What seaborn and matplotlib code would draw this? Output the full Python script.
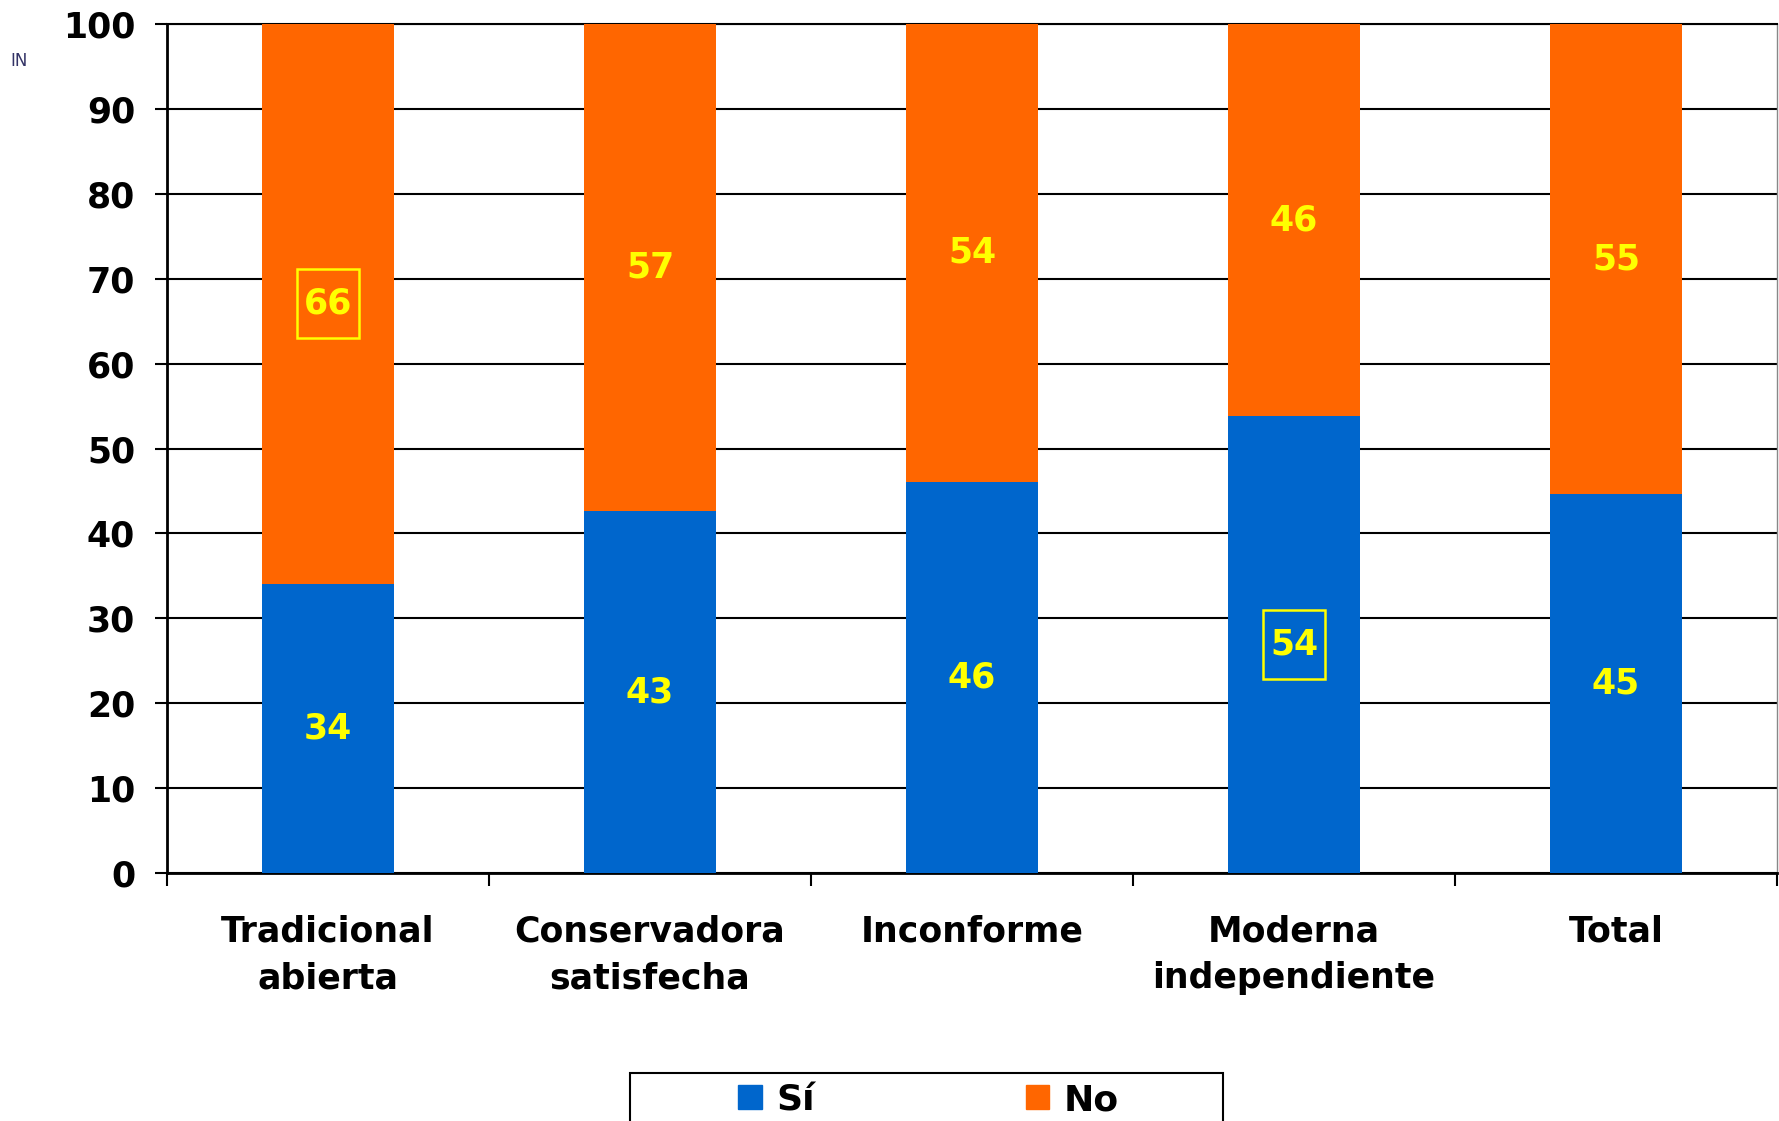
import matplotlib
matplotlib.use('Agg')
import matplotlib.pyplot as plt
import matplotlib.patches as mpatches
import seaborn as sns
import pandas as pd

# data
categories = ['Tradicional\nabierta', 'Conservadora\nsatisfecha', 'Inconforme',
              'Moderna\nindependiente', 'Total']
si_values = [34.1, 42.6, 46.1, 53.8, 44.6]
no_values = [65.9, 57.4, 53.9, 46.2, 55.4]
si_labels = ['34', '43', '46', '54', '45']
no_labels = ['66', '57', '54', '46', '55']
boxed_si = [False, False, False, True, False]
boxed_no = [True, False, False, False, False]
y_ticks = [0, 10, 20, 30, 40, 50, 60, 70, 80, 90, 100]

blue = '#0066CC'
orange = '#FF6600'
yellow = '#FFFF00'

sns.set_style('white')
plt.rcParams['font.family'] = ['DejaVu Sans']
plt.rcParams['font.weight'] = 'bold'
plt.rcParams['text.color'] = 'black'

df = pd.DataFrame({'cat': categories, 'si': si_values, 'no': no_values})
df['total'] = df['si'] + df['no']

fig = plt.figure(figsize=(17.79, 11.21), dpi=100)
ax = fig.add_axes([0.0939, 0.2212, 0.9050, 0.7574])

# stacked bars: full height in orange, Sí part in blue over it
sns.barplot(data=df, x='cat', y='total', color=orange, width=0.41,
            saturation=1, linewidth=0, ax=ax, zorder=3)
sns.barplot(data=df, x='cat', y='si', color=blue, width=0.41,
            saturation=1, linewidth=0, ax=ax, zorder=3)

# value labels, two of them framed in yellow
box_w, box_h = 0.194, 8.1
for i in range(len(categories)):
    kw = dict(ha='center', va='center', color=yellow, fontsize=25,
              fontweight='bold', zorder=5)
    y_si = si_values[i] / 2
    y_no = si_values[i] + no_values[i] / 2
    ax.text(i, y_si, si_labels[i], **kw)
    ax.text(i, y_no, no_labels[i], **kw)
    for flag, yc in [(boxed_si[i], y_si), (boxed_no[i], y_no)]:
        if flag:
            ax.add_patch(mpatches.Rectangle((i - box_w / 2, yc - box_h / 2),
                                            box_w, box_h, fill=False,
                                            edgecolor=yellow, linewidth=1.8,
                                            zorder=5))

# axes styling
ax.set_ylim(0, 100)
ax.set_xlim(-0.5, len(categories) - 0.5)
ax.set_yticks(y_ticks)
ax.set_yticklabels([str(t) for t in y_ticks], fontsize=25, fontweight='bold')
ax.yaxis.grid(True, color='black', linewidth=1.5, zorder=0)
ax.tick_params(axis='y', length=9, width=1.5, pad=14, color='black',
               labelcolor='black', left=True)

# category labels centred, tick marks at category boundaries
ax.set_xticks(range(len(categories)))
ax.set_xticklabels(categories, fontsize=25, fontweight='bold', linespacing=1.46)
ax.tick_params(axis='x', which='major', length=0, pad=30, labelcolor='black')
ax.set_xticks([i - 0.5 for i in range(len(categories) + 1)], minor=True)
ax.tick_params(axis='x', which='minor', length=9, width=1.5, color='black',
               bottom=True)
ax.set_xlabel('')
ax.set_ylabel('')

for side in ['left', 'bottom']:
    ax.spines[side].set_color('black')
    ax.spines[side].set_linewidth(2)
ax.spines['top'].set_color('black')
ax.spines['top'].set_linewidth(1.5)
ax.spines['right'].set_color('#888888')
ax.spines['right'].set_linewidth(1)

# legend at the bottom, its frame cut by the figure edge
handles = [mpatches.Patch(color=blue, label='Sí'),
           mpatches.Patch(color=orange, label='No')]
leg = fig.legend(handles=handles, loc='center', ncol=2,
                 bbox_to_anchor=(0.522, 0.0187), frameon=False,
                 fontsize=26, handlelength=0.65, handleheight=0.65,
                 handletextpad=0.4, columnspacing=5.85, borderpad=0,
                 borderaxespad=0)
for t in leg.get_texts():
    t.set_fontweight('bold')
    t.set_color('black')
fig.add_artist(mpatches.Rectangle((0.3541, -0.1), 0.3333, 0.1 + 0.0428,
                                  transform=fig.transFigure, fill=False,
                                  edgecolor='black', linewidth=1.5))

# small stray text at the top left of the original
fig.text(0.006, 0.946, 'IN', fontsize=12, fontweight='normal',
         color='#333366', va='center')

fig.savefig('out.png', dpi=100)
